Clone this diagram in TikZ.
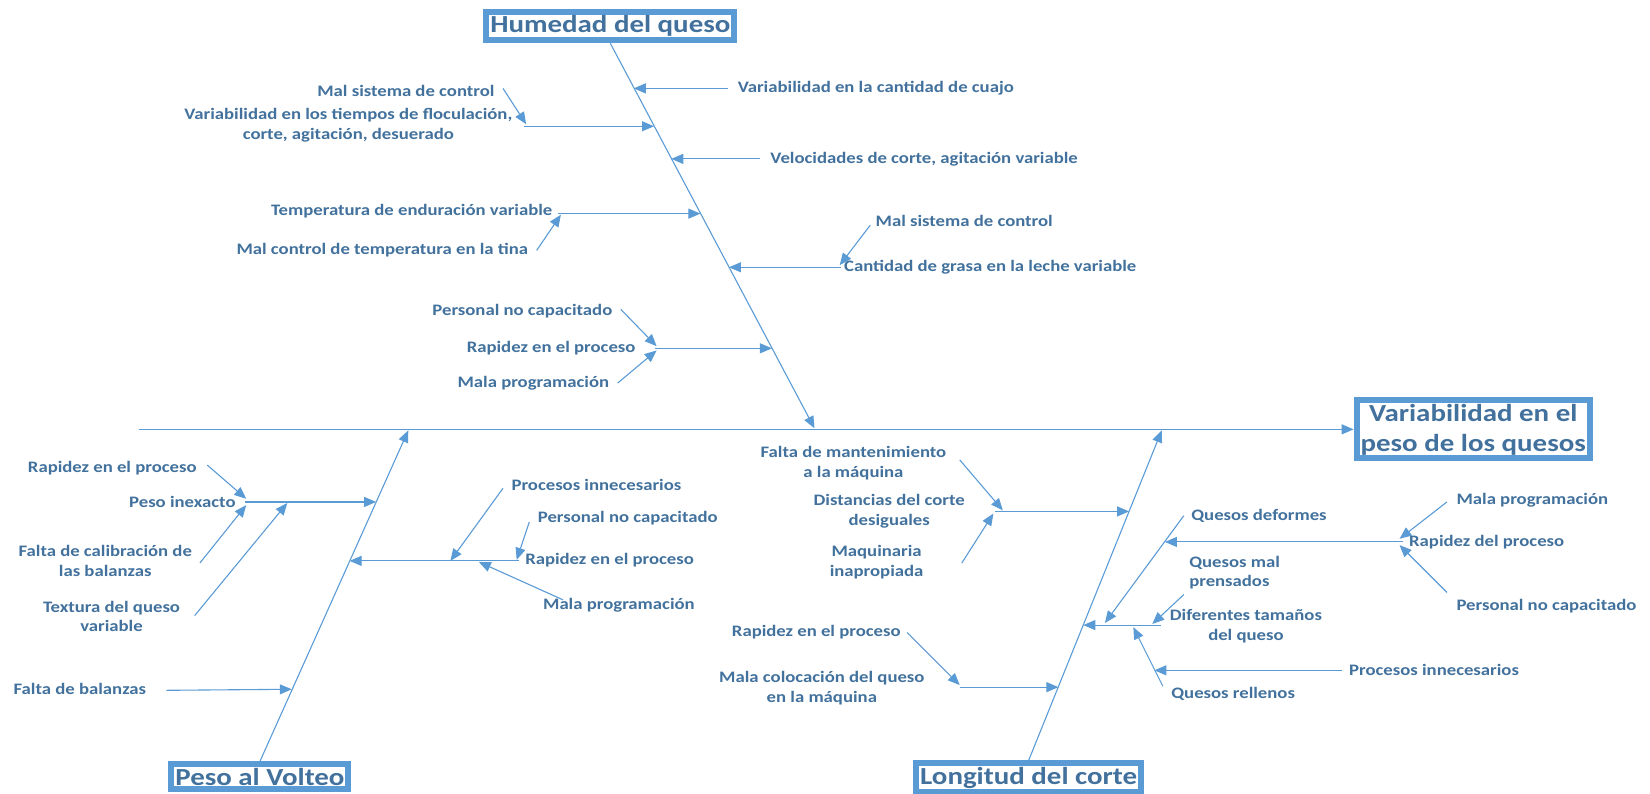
\documentclass[tikz,border=0pt]{standalone}
\usepackage{fontspec}
\setmainfont{Carlito}
\newfontfamily\lblfam[FakeStretch=1.17]{Carlito}
\newfontfamily\catfam[FakeStretch=1.18]{Carlito}
\usetikzlibrary{arrows.meta}
\definecolor{ln}{HTML}{5B9BD5}
\definecolor{tx}{HTML}{41719C}
\newcommand\lblfont{\lblfam\bfseries\fontsize{16}{19.5}\selectfont}
\newcommand\catfont{\catfam\bfseries\fontsize{24.5}{30}\selectfont}
\tikzset{
  lbl/.style={font=\lblfont, text=tx, inner sep=1pt, align=center},
  arr/.style={draw=ln, line width=1.1pt, -{Triangle[length=12pt,width=10pt]}},
  cat/.style={draw=ln, line width=6pt, fill=white, font=\catfont, text=tx, inner xsep=4pt, inner ysep=3.5pt, align=center},
}
\begin{document}
\begin{tikzpicture}[x=1.0523pt,y=-1.0523pt]
\useasboundingbox (0,0) rectangle (1568,754.5);
% categories
\node[cat] (hum) at (580,25) {Humedad del queso};
\node[cat] (eff) at (1400,408) {Variabilidad en el\\peso de los quesos};
\node[cat] (pv) at (247,738) {Peso al Volteo};
\node[cat] (lc) at (977.5,739) {Longitud del corte};
% spine
\coordinate (s0) at (132,408);
\draw[arr] (s0) -- (eff.west);
% bones
\coordinate (tt) at (774,407);
\coordinate (lt) at (388,409);
\coordinate (rt) at (1104,409);
\draw[arr] (hum.south) -- (tt);
\draw[arr] (pv.north) -- (lt);
\draw[arr] (lc.north) -- (rt);

% ---------- top bone ----------
\node[lbl,anchor=west] (t1) at (700,84) {Variabilidad en la cantidad de cuajo};
\coordinate (t1s) at (692,84); \coordinate (t1e) at (602.3,84);
\draw[arr] (t1s) -- (t1e);

\node[lbl] (t2) at (331,119) {Variabilidad en los tiempos de floculación,\\corte, agitación, desuerado};
\coordinate (t2s) at (498,120); \coordinate (t2e) at (621.5,120);
\draw[arr] (t2s) -- (t2e);
\node[lbl,anchor=east] (t2a) at (471,86) {Mal sistema de control};
\coordinate (t2as) at (478,84); \coordinate (t2ae) at (500,118);
\draw[arr] (t2as) -- (t2ae);

\node[lbl,anchor=west] (t3) at (731,151) {Velocidades de corte, agitación variable};
\coordinate (t3s) at (722,151); \coordinate (t3e) at (637.9,151);
\draw[arr] (t3s) -- (t3e);

\node[lbl,anchor=east] (t4) at (526,201) {Temperatura de enduración variable};
\coordinate (t4s) at (530,203); \coordinate (t4e) at (665.6,203);
\draw[arr] (t4s) -- (t4e);
\node[lbl,anchor=east] (t4a) at (503,238) {Mal control de temperatura en la tina};
\coordinate (t4as) at (510,238); \coordinate (t4ae) at (533,204);
\draw[arr] (t4as) -- (t4ae);

\node[lbl,anchor=west] (t5) at (801,254) {Cantidad de grasa en la leche variable};
\coordinate (t5s) at (799,254); \coordinate (t5e) at (692.7,254);
\draw[arr] (t5s) -- (t5e);
\node[lbl,anchor=west] (t5a) at (831,210) {Mal sistema de control};
\coordinate (t5as) at (827,214); \coordinate (t5ae) at (798,252);
\draw[arr] (t5as) -- (t5ae);

\node[lbl,anchor=east] (t6) at (605,331) {Rapidez en el proceso};
\coordinate (t6s) at (622,331); \coordinate (t6e) at (733.6,331);
\draw[arr] (t6s) -- (t6e);
\node[lbl,anchor=east] (t6a) at (583,296) {Personal no capacitado};
\coordinate (t6as) at (590,294); \coordinate (t6ae) at (624,329);
\draw[arr] (t6as) -- (t6ae);
\node[lbl,anchor=east] (t6b) at (580,364) {Mala programación};
\coordinate (t6bs) at (587,364); \coordinate (t6be) at (624,333);
\draw[arr] (t6bs) -- (t6be);

% ---------- left bone ----------
\node[lbl,anchor=east] (l1) at (225,477) {Peso inexacto};
\coordinate (l1s) at (233,477); \coordinate (l1e) at (357.4,477);
\draw[arr] (l1s) -- (l1e);
\node[lbl,anchor=east] (l1a) at (188,445) {Rapidez en el proceso};
\coordinate (l1as) at (197,442); \coordinate (l1ae) at (234,474);
\draw[arr] (l1as) -- (l1ae);
\node[lbl] (l1b) at (100,533) {Falta de calibración de\\las balanzas};
\coordinate (l1bs) at (190,535); \coordinate (l1be) at (234,480);
\draw[arr] (l1bs) -- (l1be);
\node[lbl] (l1c) at (106,586) {Textura del queso\\variable};
\coordinate (l1cs) at (185,585); \coordinate (l1ce) at (273,478);
\draw[arr] (l1cs) -- (l1ce);

\node[lbl,anchor=east] (l2) at (140,655) {Falta de balanzas};
\coordinate (l2s) at (158,656); \coordinate (l2e) at (277.3,655);
\draw[arr] (l2s) -- (l2e);

\node[lbl,anchor=west] (l3) at (498,532) {Rapidez en el proceso};
\coordinate (l3s) at (493,533); \coordinate (l3e) at (332.2,533);
\draw[arr] (l3s) -- (l3e);
\node[lbl,anchor=west] (l3a) at (485,461) {Procesos innecesarios};
\coordinate (l3as) at (478,464); \coordinate (l3ae) at (428,533);
\draw[arr] (l3as) -- (l3ae);
\node[lbl,anchor=west] (l3b) at (510,492) {Personal no capacitado};
\coordinate (l3bs) at (503,496); \coordinate (l3be) at (491,532);
\draw[arr] (l3bs) -- (l3be);
\node[lbl,anchor=west] (l3c) at (515,575) {Mala programación};
\coordinate (l3cs) at (535,570); \coordinate (l3ce) at (455,534);
\draw[arr] (l3cs) -- (l3ce);

% ---------- right bone ----------
\node[lbl] (r1) at (845,486) {Distancias del corte\\desiguales};
\coordinate (r1s) at (946,486); \coordinate (r1e) at (1073,486);
\draw[arr] (r1s) -- (r1e);
\node[lbl] (r1a) at (811,440) {Falta de mantenimiento\\a la máquina};
\coordinate (r1as) at (912,437); \coordinate (r1ae) at (953,485);
\draw[arr] (r1as) -- (r1ae);
\node[lbl] (r1b) at (833,534) {Maquinaria\\inapropiada};
\coordinate (r1bs) at (914,535); \coordinate (r1be) at (944,488);
\draw[arr] (r1bs) -- (r1be);

\node[lbl] (r2) at (781,654) {Mala colocación del queso\\en la máquina};
\coordinate (r2s) at (912,653); \coordinate (r2e) at (1005.8,653);
\draw[arr] (r2s) -- (r2e);
\node[lbl,anchor=east] (r2a) at (857,601) {Rapidez en el proceso};
\coordinate (r2as) at (862,601); \coordinate (r2ae) at (912,651);
\draw[arr] (r2as) -- (r2ae);

\node[lbl] (r3) at (1184,595) {Diferentes tamaños\\del queso};
\coordinate (r3s) at (1103,594); \coordinate (r3e) at (1029.5,594);
\draw[arr] (r3s) -- (r3e);

\node[lbl,anchor=west] (r3a) at (1131,490) {Quesos deformes};
\coordinate (r3as) at (1125,490); \coordinate (r3ae) at (1050,592);
\draw[arr] (r3as) -- (r3ae);
\node[lbl,anchor=west] (r4) at (1338,515) {Rapidez del proceso};
\coordinate (r4s) at (1333,515); \coordinate (r4e) at (1107,515);
\draw[arr] (r4s) -- (r4e);
\node[lbl,anchor=west] (r4a) at (1383,475) {Mala programación};
\coordinate (r4as) at (1375,477); \coordinate (r4ae) at (1330,512);
\draw[arr] (r4as) -- (r4ae);
\node[lbl,anchor=west] (r4b) at (1383,576) {Personal no capacitado};
\coordinate (r4bs) at (1375,563); \coordinate (r4be) at (1330,518);
\draw[arr] (r4bs) -- (r4be);

\node[lbl,anchor=west,align=left] (r3b) at (1129,544) {Quesos mal\\prensados};
\coordinate (r3bs) at (1125,565); \coordinate (r3be) at (1095,593);
\draw[arr] (r3bs) -- (r3be);

\node[lbl,anchor=west] (r3c) at (1112,659) {Quesos rellenos};
\coordinate (r3cs) at (1105,652); \coordinate (r3ce) at (1077,596);
\draw[arr] (r3cs) -- (r3ce);
\node[lbl,anchor=west] (r5) at (1281,637) {Procesos innecesarios};
\coordinate (r5s) at (1275,637); \coordinate (r5e) at (1097,637);
\draw[arr] (r5s) -- (r5e);
\end{tikzpicture}
\end{document}
